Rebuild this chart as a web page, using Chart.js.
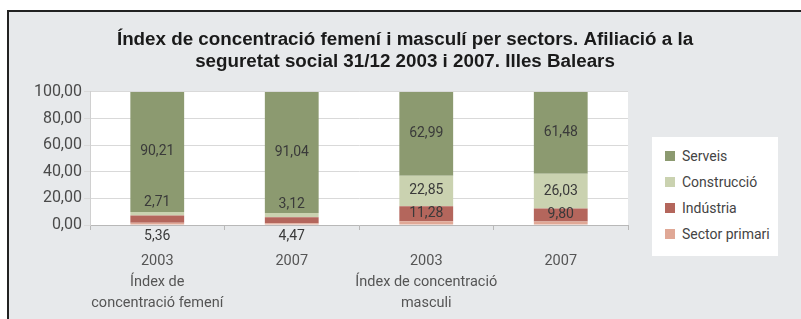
<!DOCTYPE html>
<html>
<head>
<meta charset="utf-8">
<script src="https://cdn.jsdelivr.net/npm/chart.js@4"></script>
<style>
  body { margin: 0; background: #fff; }
  #frame {
    position: absolute; left: 7px; top: 10px; width: 794px; height: 309px;
    box-sizing: border-box; border-left: 2px solid #222; border-top: 2px solid #222;
    background: #e7e9eb;
  }
  #chart { position: absolute; left: 0; top: 0; }
  #legend {
    position: absolute; left: 643px; top: 125px; width: 126px; height: 119px;
    background: #fff; box-sizing: border-box; padding-top: 6px;
    font-family: Roboto, sans-serif; font-size: 14px; color: #444;
  }
  .item { height: 26px; line-height: 26px; position: relative; padding-left: 30px; white-space: nowrap; }
  .item span.box { position: absolute; left: 13px; top: 8px; width: 10px; height: 10px; }
</style>
</head>
<body>
<div id="frame">
  <canvas id="chart" width="792" height="307"></canvas>
  <div id="legend"></div>
</div>
<script>
// categories (x axis)
var categories = [
  ["2003", "Índex de", "concentració femení"],
  ["2007"],
  ["2003", "Índex de concentració", "masculi"],
  ["2007"]
];
// series values (%)
var serveis = [90.21, 91.04, 62.99, 61.48];
var construccio = [2.71, 3.12, 22.85, 26.03];
var industria = [5.36, 4.47, 11.28, 9.80];
var primari = [1.72, 1.37, 2.88, 2.69];
var yTicks = [0, 20, 40, 60, 80, 100];

var names = ["Sector primari", "Indústria", "Construcció", "Serveis"];
var colors = ["#e0a896", "#b4665c", "#cad2b0", "#8c9a70"];
var showLabel = [false, true, true, true];

var font = "Roboto, sans-serif";

// legend (reverse order, top = Serveis)
var legendHtml = "";
for (let i = names.length - 1; i >= 0; i--) {
  legendHtml += '<div class="item"><span class="box" style="background:' + colors[i] + '"></span>' + names[i] + "</div>";
}
document.getElementById("legend").innerHTML = legendHtml;

function fmt(v) {
  return v.toFixed(2).replace(".", ",");
}

var plotBg = {
  id: "plotBg",
  beforeDraw: function (chart) {
    var a = chart.chartArea;
    var ctx = chart.ctx;
    ctx.save();
    ctx.fillStyle = "#ffffff";
    ctx.fillRect(a.left, a.top, a.right - a.left, a.bottom - a.top);
    ctx.restore();
  },
};

var valueLabels = {
  id: "valueLabels",
  afterDatasetsDraw: function (chart) {
    var ctx = chart.ctx;
    var bottom = chart.scales.y.bottom;
    ctx.save();
    ctx.font = "14px " + font;
    ctx.textAlign = "center";
    ctx.textBaseline = "middle";
    chart.data.datasets.forEach(function (ds, di) {
      if (!showLabel[di]) return;
      chart.getDatasetMeta(di).data.forEach(function (el, i) {
        var h = el.base - el.y;
        var y;
        if (h >= 10) {
          y = (el.y + el.base) / 2;
        } else if (di == 2) {
          y = el.y - 9; // construcció: above thin segment
        } else {
          y = bottom + 11; // indústria: under the axis
        }
        ctx.fillStyle = "#3a3a3a";
        ctx.fillText(fmt(ds.data[i]), el.x, y);
      });
    });
    ctx.restore();
  },
};

var ctx = document.getElementById("chart").getContext("2d");
new Chart(ctx, {
  type: "bar",
  data: {
    labels: categories,
    datasets: [
      { label: names[0], data: primari, backgroundColor: colors[0] },
      { label: names[1], data: industria, backgroundColor: colors[1] },
      { label: names[2], data: construccio, backgroundColor: colors[2] },
      { label: names[3], data: serveis, backgroundColor: colors[3] },
    ],
  },
  options: {
    responsive: false,
    animation: false,
    layout: { padding: 0 },
    datasets: {
      bar: { categoryPercentage: 1, barPercentage: 0.4, borderWidth: 0 },
    },
    plugins: {
      legend: { display: false },
      tooltip: { enabled: false },
      title: {
        display: true,
        text: [
          "Índex de concentració femení i masculí per sectors. Afiliació a la",
          "seguretat social 31/12 2003 i 2007. Illes Balears",
        ],
        color: "#1a1a1a",
        font: { family: "'Liberation Sans', Arial, sans-serif", size: 18.8, weight: "bold", lineHeight: 1.17 },
        padding: { top: 17, bottom: 19 },
      },
    },
    scales: {
      x: {
        stacked: true,
        afterFit: function (scale) { scale.height = 94; },
        grid: { display: true, drawOnChartArea: false, drawTicks: true, tickLength: 5, offset: true, color: "#b8b8b8" },
        border: { display: true, color: "#b8b8b8" },
        ticks: {
          color: "#555",
          padding: 21,
          maxRotation: 0,
          minRotation: 0,
          autoSkip: false,
          font: { family: font, size: 14.5, lineHeight: 1.45 },
        },
      },
      y: {
        stacked: true,
        min: 0,
        max: 100,
        afterFit: function (scale) { scale.width = 81; },
        afterBuildTicks: function (scale) {
          scale.ticks = yTicks.map(function (v) { return { value: v }; });
        },
        grid: { color: "#d9d9d9", tickLength: 6 },
        border: { display: true, color: "#d0d0d0" },
        ticks: {
          color: "#4a4a4a",
          padding: 2,
          font: { family: font, size: 16 },
          callback: function (v) { return fmt(v); },
        },
      },
      // empty right-hand axis: keeps room for the legend box
      yRight: {
        position: "right",
        display: true,
        afterFit: function (scale) { scale.width = 173; },
        grid: { display: false },
        border: { display: false },
        ticks: { display: false },
      },
    },
  },
  plugins: [plotBg, valueLabels],
});
</script>
</body>
</html>
